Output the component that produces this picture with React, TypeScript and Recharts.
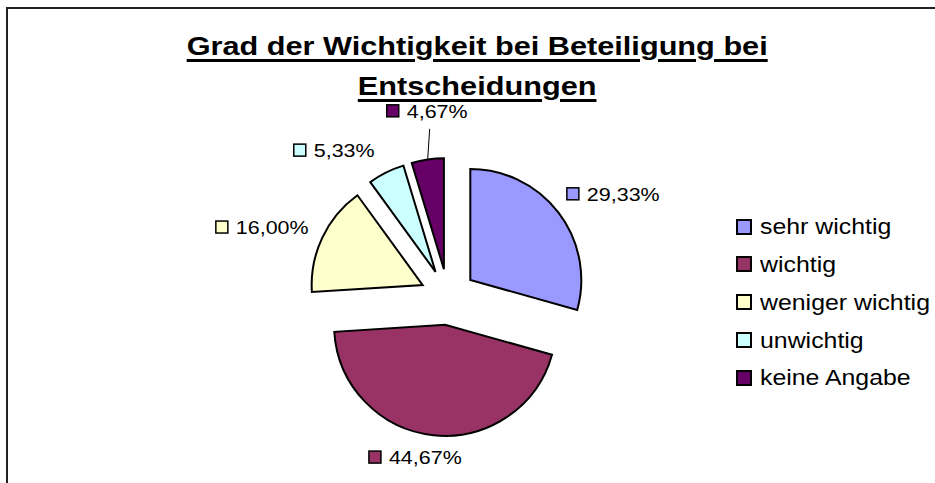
import React from 'react';
import { PieChart, Pie, Legend, Sector } from 'recharts';

// ---- data ----
const CATEGORIES = ['sehr wichtig', 'wichtig', 'weniger wichtig', 'unwichtig', 'keine Angabe'];
const VALUES = [29.33, 44.67, 16.0, 5.33, 4.67];
const COLORS = ['#9999FF', '#993366', '#FFFFCC', '#CCFFFF', '#660066'];
const TITLE_LINES = ['Grad der Wichtigkeit bei Beteiligung bei', 'Entscheidungen'];

const data = CATEGORIES.map((name, i) => ({ name, value: VALUES[i] }));

// ---- layout / style ----
const FONT = 'Arial, "Liberation Sans", Helvetica, sans-serif';
const W = 935;
const H = 483;
const RAD = Math.PI / 180;
const CX = 448;
const CY = 297;
const R = 111;
const EXPLODE = 28;
const LABEL_GAP = 22;
const LABEL_NUDGE: [number, number][] = [[0, -1], [-11, -8], [2, 2], [-21.5, 4.5], [9.5, -19]];
const LABEL_FONT = 19;
const LABEL_SX = 1.13;

const CHAR_W: Record<string, number> = { ',': 0.278, '%': 0.889 };
const textUnits = (s: string) => s.split('').reduce((a, c) => a + (CHAR_W[c] ?? 0.556), 0);
const fmt = (v: number) => v.toFixed(2).replace('.', ',') + '%';

function SliceWithLabel(props: any) {
  const { cx, cy, outerRadius, startAngle, endAngle, midAngle, index, value, percent } = props;
  const dx = Math.cos(-midAngle * RAD);
  const dy = Math.sin(-midAngle * RAD);
  const sx = cx + EXPLODE * dx;
  const sy = cy + EXPLODE * dy;
  const outer = outerRadius + EXPLODE;
  const ax = cx + (outer + LABEL_GAP) * dx;
  const ay = cy + (outer + LABEL_GAP) * dy;
  const [nx, ny] = LABEL_NUDGE[index] || [0, 0];
  const gx = ax + 46.5 * dx + nx;
  const gy = ay + 8 * dy + ny;
  const text = fmt(value);
  const tw = textUnits(text) * LABEL_FONT * LABEL_SX;
  const box = 12;
  const gap = 8;
  const w = box + gap + tw;
  const left = gx - w / 2;
  const ox = cx + outer * dx;
  const oy = cy + outer * dy;
  const leader = percent < 0.05;
  return (
    <g>
      <Sector
        cx={sx}
        cy={sy}
        innerRadius={0}
        outerRadius={outerRadius}
        startAngle={startAngle}
        endAngle={endAngle}
        fill={COLORS[index]}
        stroke="#000"
        strokeWidth={2}
      />
      {leader && (
        <line x1={ox} y1={oy} x2={ox + 2} y2={gy + 18} stroke="#000" strokeWidth={1} />
      )}
      <rect
        x={left}
        y={gy - 6}
        width={box}
        height={box}
        fill={COLORS[index]}
        stroke="#000"
        strokeWidth={1.5}
      />
      <text
        transform={`translate(${left + box + gap},${gy + 6.8}) scale(${LABEL_SX},1)`}
        fontSize={LABEL_FONT}
        fontFamily={FONT}
        fill="#000"
      >
        {text}
      </text>
    </g>
  );
}

function LegendContent() {
  return (
    <div style={{ fontFamily: FONT }}>
      {CATEGORIES.map((name, i) => (
        <div key={name} style={{ display: 'flex', alignItems: 'center', height: 37.8 }}>
          <div
            style={{
              width: 16,
              height: 16,
              boxSizing: 'border-box',
              border: '2px solid #000',
              background: COLORS[i],
              flex: '0 0 auto',
            }}
          />
          <span
            style={{
              marginLeft: 8,
              fontSize: 22,
              lineHeight: '25px',
              color: '#000',
              whiteSpace: 'nowrap',
              display: 'inline-block',
              transform: 'scaleX(1.13)',
              transformOrigin: 'left center',
            }}
          >
            {name}
          </span>
        </div>
      ))}
    </div>
  );
}

export default function App() {
  return (
    <div
      style={{
        position: 'absolute',
        left: 0,
        top: 0,
        width: W,
        height: H,
        overflow: 'hidden',
        background: '#fff',
      }}
    >
      <div
        style={{
          position: 'absolute',
          left: 5.5,
          top: 7,
          width: 2000,
          height: 2000,
          border: '2px solid #222',
        }}
      />
      <div
        style={{
          position: 'absolute',
          left: 0,
          top: 25.5,
          width: 955,
          textAlign: 'center',
          fontFamily: FONT,
          fontWeight: 'bold',
          fontSize: 26,
          lineHeight: '40px',
          color: '#000',
        }}
      >
        {TITLE_LINES.map((line) => (
          <div key={line}>
            <span
              style={{
                display: 'inline-block',
                transform: 'scaleX(1.18)',
                transformOrigin: 'center',
                textDecoration: 'underline',
                textDecorationThickness: '3px',
                textUnderlineOffset: '3.5px',
                whiteSpace: 'nowrap',
              }}
            >
              {line}
            </span>
          </div>
        ))}
      </div>
      <div style={{ position: 'absolute', left: 0, top: 0 }}>
        <PieChart width={W} height={H} margin={{ top: 0, right: 0, bottom: 0, left: 0 }}>
          <Pie
            data={data}
            dataKey="value"
            nameKey="name"
            cx={CX}
            cy={CY}
            outerRadius={R}
            startAngle={90}
            endAngle={-270}
            fill="transparent"
            stroke="none"
            isAnimationActive={false}
            label={SliceWithLabel}
            labelLine={false}
          />
          <Legend
            layout="vertical"
            align="right"
            verticalAlign="top"
            wrapperStyle={{ left: 736, top: 207.8, width: 199 }}
            content={() => <LegendContent />}
          />
        </PieChart>
      </div>
    </div>
  );
}
